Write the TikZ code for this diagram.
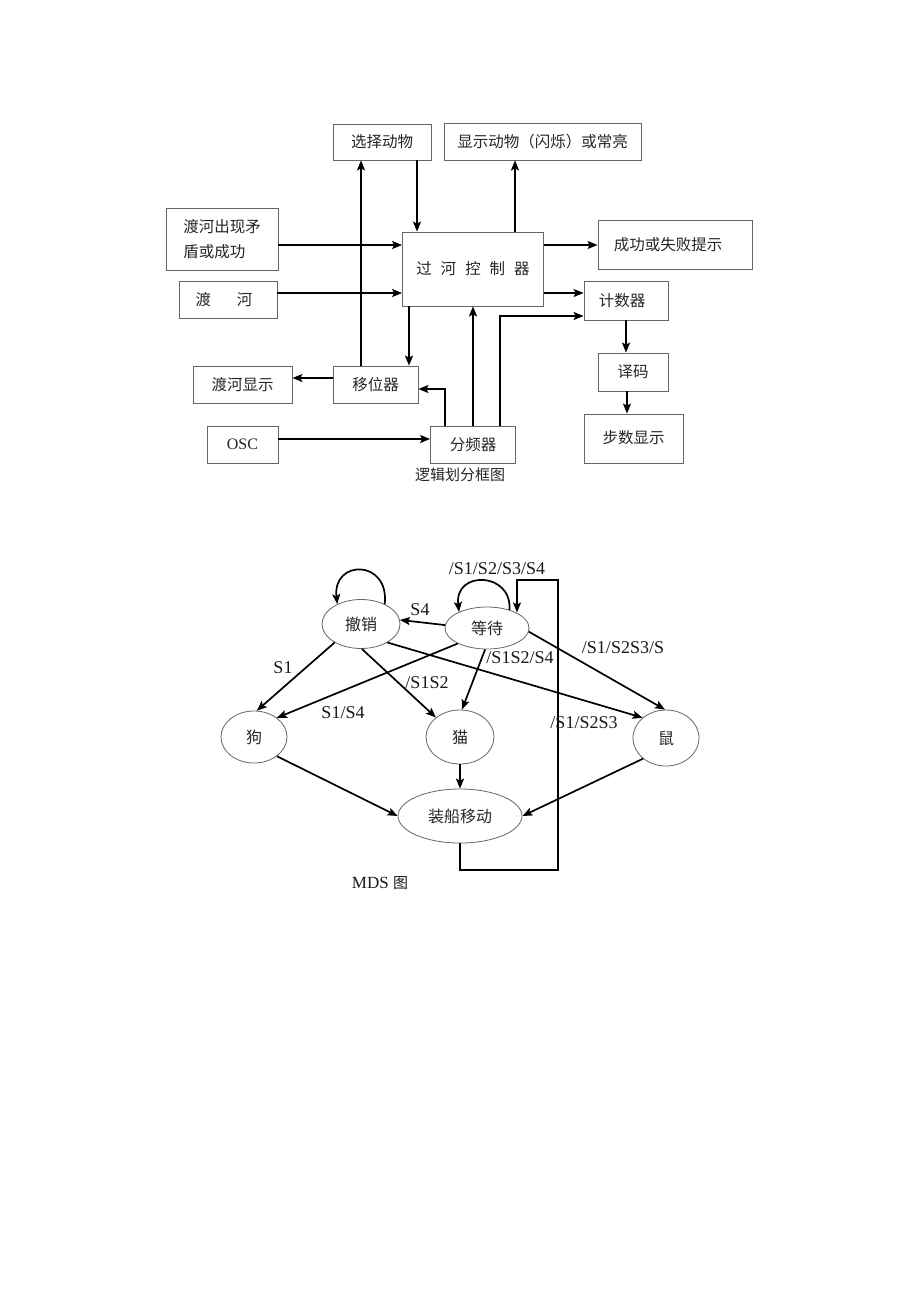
\documentclass[tikz,border=0pt]{standalone}
\usepackage{fontspec}
\setmainfont{Liberation Serif}
\newfontfamily\cjk{Noto Sans CJK SC}
\usetikzlibrary{arrows.meta,shapes.geometric}
\begin{document}
\begin{tikzpicture}[x=1pt,y=-1pt,
  box/.style={draw=black!60, line width=0.8pt, rectangle, inner sep=0pt, font=\cjk\fontsize{15.5}{25}\selectfont, text=black!85},
  st/.style={draw=black!60, line width=0.8pt, ellipse, inner sep=0pt, font=\cjk\fontsize{16}{18}\selectfont, text=black!85},
  arr/.style={-{Stealth[length=10pt,width=8pt,inset=2pt]}, line width=1.7pt},
  lab/.style={font=\fontsize{18}{20}\selectfont, inner sep=0pt, text=black!90}]
\useasboundingbox (0,0) rectangle (920,1301);
\fill[white] (0,0) rectangle (920,1301);

% ---------- top block diagram ----------
\node[box, minimum width=98pt, minimum height=36pt] (sel) at (382,142) {选择动物};
\node[box, minimum width=197pt, minimum height=37pt] (disp) at (542.5,141.5) {显示动物（闪烁）或常亮};
\node[box, minimum width=112pt, minimum height=62pt, align=left] (conf) at (222,239) {渡河出现矛\\盾或成功};
\node[box, minimum width=98pt, minimum height=37pt] (dh) at (228,299.5) {\hspace{-8pt}渡\hspace{26pt}河};
\node[box, minimum width=141pt, minimum height=74pt] (ctrl) at (473,269) {过\hspace{9pt}河\hspace{9pt}控\hspace{9pt}制\hspace{9pt}器};
\node[box, minimum width=154pt, minimum height=49pt] (sf) at (675,245) {\hspace{-14pt}成功或失败提示};
\node[box, minimum width=84pt, minimum height=39pt] (cnt) at (626,300.5) {\hspace{-8pt}计数器};
\node[box, minimum width=70pt, minimum height=38pt] (dec) at (633,372) {译码};
\node[box, minimum width=99pt, minimum height=49pt] (steps) at (633.5,438.5) {\raisebox{3pt}{步数显示}};
\node[box, minimum width=85pt, minimum height=37pt] (shift) at (375.5,384.5) {移位器};
\node[box, minimum width=99pt, minimum height=37pt] (dhd) at (242.5,384.5) {渡河显示};
\node[box, minimum width=71pt, minimum height=37pt, font=\fontsize{16}{18}\selectfont] (osc) at (242.5,444.5) {OSC};
\node[box, minimum width=85pt, minimum height=37pt] (div) at (473,444.5) {分频器};
\node[inner sep=0pt, font=\cjk\fontsize{15}{17}\selectfont, text=black!85] (cap1) at (460,475) {逻辑划分框图};

\draw[arr] ([yshift=-6pt]conf.east) -- ([yshift=-6pt]conf.east -| ctrl.west);
\draw[arr] ([yshift=6.5pt]dh.east) -- ([yshift=6.5pt]dh.east -| ctrl.west);
\draw[arr] ([xshift=35pt]sel.south) -- ([xshift=35pt]sel.south |- ctrl.north);
\draw[arr] ([xshift=-14.5pt]shift.north) -- ([xshift=-14.5pt]shift.north |- sel.south);
\draw[arr] ([xshift=-27.5pt]disp.south |- ctrl.north) -- ([xshift=-27.5pt]disp.south);
\draw[arr] (ctrl.east |- sf.west) -- (sf.west);
\draw[arr] ([yshift=7.5pt]cnt.west -| ctrl.east) -- ([yshift=7.5pt]cnt.west);
\draw[arr] ([xshift=33.5pt]shift.north |- ctrl.south) -- ([xshift=33.5pt]shift.north);
\draw[arr] ([yshift=6.5pt]shift.west) -- ([yshift=6.5pt]shift.west -| dhd.east);
\draw[arr] ([xshift=-28pt]div.north) |- ([yshift=-4.5pt]shift.east);
\draw[arr] (div.north) -- (ctrl.south);
\draw[arr] ([xshift=27pt]div.north) |- ([yshift=-15.5pt]cnt.west);
\draw[arr] ([yshift=5.5pt]osc.east) -- ([yshift=5.5pt]osc.east -| div.west);
\draw[arr] (cnt.south) -- (cnt.south |- dec.north);
\draw[arr] ([xshift=-6pt]dec.south) -- ([xshift=-6pt]dec.south |- steps.north);

% ---------- MDS diagram ----------
\node[st, minimum width=78pt, minimum height=49pt] (U) at (361,624) {撤销};
\node[st, minimum width=84pt, minimum height=42pt] (W) at (487,628) {等待};
\node[st, minimum width=66pt, minimum height=52pt] (D) at (254,737) {狗};
\node[st, minimum width=68pt, minimum height=54pt] (C) at (460,737) {猫};
\node[st, minimum width=66pt, minimum height=56pt] (R) at (666,738) {鼠};
\node[st, minimum width=124pt, minimum height=54pt] (B) at (460,816) {装船移动};

\draw[arr] (U.40) .. controls +(5,-45) and +(-5,-45) .. (U.140);
\draw[arr] (W.39) .. controls +(3,-38) and +(-5,-42) .. (W.150);

\draw[arr] (W.176) -- (U.6);
\draw[arr] (U.215) -- (D.84);
\draw[arr] (W.208) -- (D.40);
\draw[arr] (U.272) -- (C.141);
\draw[arr] (W.265) -- (C.86);
\draw[arr] (U.325) -- (R.139);
\draw[arr] (W.355) -- (R.92);
\draw[arr] (D.320) -- (B.180);
\draw[arr] (C.south) -- (B.north);
\draw[arr] (R.222) -- (B.0);

\coordinate (fb1) at (460,870);
\coordinate (fb2) at (558,870);
\coordinate (fb3) at (558,580);
\coordinate (fb4) at (517,580);
\draw[arr, line width=1.4pt] (B.south) -- (fb1) -- (fb2) -- (fb3) -- (fb4) -- (fb4 |- W.28);

\node[lab] (l1) at (497,569) {/S1/S2/S3/S4};
\node[lab] (l2) at (420,610) {S4};
\node[lab] (l3) at (283,668) {S1};
\node[lab] (l4) at (343,713) {S1/S4};
\node[lab] (l5) at (427,683) {/S1S2};
\node[lab] (l6) at (520,658) {/S1S2/S4};
\node[lab] (l7) at (584,723) {/S1/S2S3};
\node[lab] (l8) at (623,648) {/S1/S2S3/S};
\node[inner sep=0pt, font=\fontsize{17}{19}\selectfont, text=black!90] (cap2) at (380,883) {MDS {\cjk\fontsize{15}{17}\selectfont 图}};
\end{tikzpicture}
\end{document}
